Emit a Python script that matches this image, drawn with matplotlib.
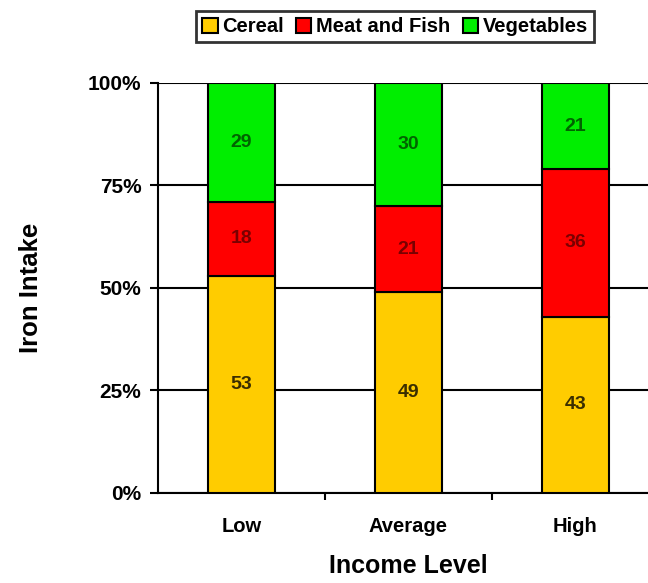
import numpy as np
import matplotlib.pyplot as plt

plt.rcParams['font.family'] = ['Liberation Sans', 'DejaVu Sans']
plt.rcParams['font.weight'] = 'bold'

categories = ['Low', 'Average', 'High']
cereal = [53, 49, 43]
meat_fish = [18, 21, 36]
vegetables = [29, 30, 21]

series = [('Cereal', cereal, '#FFCC00', '#3a2e00'),
          ('Meat and Fish', meat_fish, '#FF0000', '#7a0000'),
          ('Vegetables', vegetables, '#00EE00', '#006400')]

fig = plt.figure(figsize=(6.48, 5.83), dpi=100)
ax = fig.add_axes([0.2438, 0.1544, 0.773, 0.7033])

x = np.arange(len(categories))
bottom = np.zeros(len(categories))
handles = []
for name, vals, color, tcolor in series:
    vals = np.array(vals, dtype=float)
    bars = ax.bar(x, vals, 0.4, bottom=bottom, color=color, edgecolor='black',
                  linewidth=1.5, zorder=3, label=name)
    handles.append(bars)
    for xi, b, v in zip(x, bottom, vals):
        ax.text(xi, b + v / 2, f'{int(v)}', ha='center', va='center',
                fontsize=14, fontweight='bold', color=tcolor, zorder=4)
    bottom += vals

ax.set_xlim(-0.5, 2.5)
ax.set_ylim(0, 100)
ax.set_yticks([0, 25, 50, 75, 100])
ax.set_yticklabels(['0%', '25%', '50%', '75%', '100%'])
ax.yaxis.grid(True, color='black', linewidth=1.5, zorder=0)
ax.set_axisbelow(True)

ax.set_xticks(x)
ax.set_xticklabels(categories)
ax.set_xticks([0.5, 1.5], minor=True)
ax.tick_params(axis='x', which='major', length=0, pad=17, labelsize=14.5)
ax.tick_params(axis='x', which='minor', length=5, width=1.5, direction='out')
ax.tick_params(axis='y', length=6, width=1.5, direction='out', pad=6,
               labelsize=15)

for s in ['top', 'right']:
    ax.spines[s].set_visible(False)
for s in ['left', 'bottom']:
    ax.spines[s].set_linewidth(1.5)

ax.set_xlabel('Income Level', fontsize=18, fontweight='bold', labelpad=13)
ax.set_ylabel('Iron Intake', fontsize=18.5, fontweight='bold', labelpad=32)

leg = fig.legend(handles=handles, loc='center', bbox_to_anchor=(0.61, 0.954),
                 ncol=3, frameon=True, fancybox=False, edgecolor='black',
                 fontsize=14.5, handlelength=0.75, handleheight=0.75,
                 handletextpad=0.25, columnspacing=0.6, borderpad=0.3)
leg.get_frame().set_linewidth(2)

fig.savefig('out.png', dpi=100)
